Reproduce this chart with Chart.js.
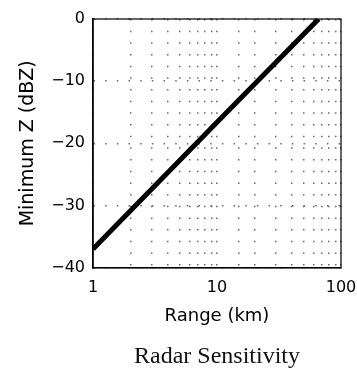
<!DOCTYPE html>
<html>
<head>
<meta charset="utf-8">
<script src="https://cdn.jsdelivr.net/npm/chart.js@4.4.1/dist/chart.umd.min.js"></script>
<style>
  html, body { margin: 0; padding: 0; background: #fff; overflow: hidden; }
  #wrap { width: 357px; height: 371px; overflow: hidden; position: relative; }
  canvas { display: block; }
</style>
</head>
<body>
<div id="wrap"><canvas id="c" width="370" height="371" style="width:370px;height:371px"></canvas></div>
<script>
// ---- data ----
const rangeKm = [1, 10, 66];          // x values (km, log scale)
const minZ = [-37, -16.6, 0];         // minimum detectable Z (dBZ)
const xTickLabels = [1, 10, 100];     // labelled x ticks
const yTicks = [-40, -30, -20, -10, 0];
const xTitle = 'Range (km)';
const yTitle = 'Minimum Z (dBZ)';
const chartTitle = 'Radar Sensitivity';

const points = rangeKm.map((r, i) => ({ x: r, y: minZ[i] }));

const boxPlugin = {
  id: 'boxPlugin',
  afterDatasetsDraw(chart) {
    const { ctx, chartArea: a } = chart;
    ctx.save();
    ctx.strokeStyle = '#000';
    ctx.lineWidth = 1.2;
    ctx.strokeRect(a.left, a.top, a.right - a.left, a.bottom - a.top);
    ctx.restore();
  }
};

new Chart(document.getElementById('c'), {
  type: 'line',
  data: {
    datasets: [{
      data: points,
      borderColor: '#000',
      borderWidth: 5,
      pointRadius: 0,
      tension: 0,
      fill: false,
      borderCapStyle: 'butt'
    }]
  },
  options: {
    responsive: false,
    devicePixelRatio: 1,
    animation: false,
    layout: { padding: { left: 0, top: 19, right: 29, bottom: 0 } },
    plugins: {
      legend: { display: false },
      tooltip: { enabled: false },
      title: {
        display: true,
        text: chartTitle,
        position: 'bottom',
        fullSize: false,
        color: '#111',
        font: { family: 'Liberation Serif', size: 24, weight: 'normal' },
        padding: { top: 14.6, bottom: 0 }
      }
    },
    scales: {
      x: {
        type: 'logarithmic',
        min: 1,
        max: 100,
        afterFit(scale) { scale.height = 60; },
        ticks: {
          autoSkip: false,
          maxRotation: 0,
          padding: 11,
          color: '#000',
          font: { family: 'DejaVu Sans', size: 16 },
          callback: (v) => xTickLabels.includes(v) ? String(v) : ''
        },
        grid: {
          color: '#666',
          lineWidth: 1.5,
          drawTicks: false
        },
        border: { display: true, color: '#000', width: 1.5, dash: [1.5, 10.17] },
        title: {
          display: true,
          text: xTitle,
          color: '#000',
          font: { family: 'DejaVu Sans', size: 18 },
          padding: { top: 0, bottom: 0 }
        }
      },
      y: {
        min: -40,
        max: 0,
        afterFit(scale) { scale.width = 93; },
        afterBuildTicks(scale) { scale.ticks = yTicks.map(v => ({ value: v })); },
        ticks: {
          padding: 8,
          color: '#000',
          font: { family: 'DejaVu Sans', size: 16 },
          callback: (v) => String(v).replace('-', '\u2212')
        },
        grid: {
          color: '#666',
          lineWidth: 1.5,
          drawTicks: false
        },
        border: { display: true, color: '#000', width: 1.5, dash: [1.5, 10.17] },
        title: {
          display: true,
          text: yTitle,
          color: '#000',
          font: { family: 'DejaVu Sans', size: 19 },
          padding: { top: 16.6, bottom: 0 }
        }
      }
    }
  },
  plugins: [boxPlugin]
});
</script>
</body>
</html>
